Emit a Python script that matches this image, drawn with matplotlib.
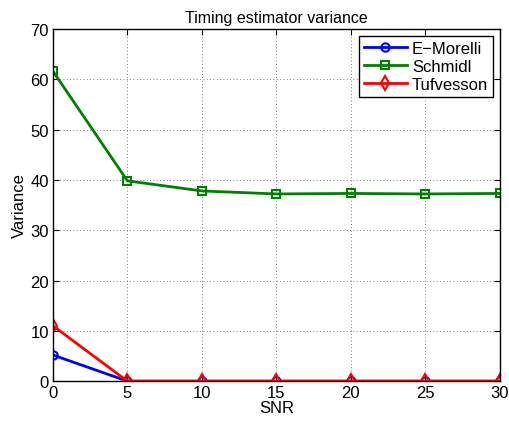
import matplotlib
matplotlib.use("Agg")
import matplotlib.pyplot as plt

plt.rcParams['font.family'] = ['Liberation Sans', 'DejaVu Sans']

snr = [0, 5, 10, 15, 20, 25, 30]
morelli = [5.2, 0, 0, 0, 0, 0, 0]
schmidl = [61.6, 39.8, 37.8, 37.2, 37.3, 37.2, 37.3]
tufvesson = [11.0, 0, 0, 0, 0, 0, 0]

fig = plt.figure(figsize=(5.09, 4.27), dpi=100)
ax = fig.add_axes([0.104, 0.105, 0.878, 0.825])

ax.plot(snr, morelli, color='#0000ff', lw=2, marker='o', ms=6, mfc='none', mew=1.5, label='E\u2212Morelli')
ax.plot(snr, schmidl, color='#008000', lw=2, marker='s', ms=5.5, mfc='none', mew=1.5, label='Schmidl')
ax.plot(snr, tufvesson, color='#ff0000', lw=2, marker='d', ms=7, mfc='none', mew=1.5, label='Tufvesson')

ax.set_xlim(0, 30)
ax.set_ylim(0, 70)
ax.set_xticks(snr)
ax.set_yticks(range(0, 71, 10))
ax.tick_params(direction='in', labelsize=12, length=4, top=True, right=True, pad=3)
ax.grid(True, color='#555555', linestyle=(0, (1, 3)), linewidth=0.6)
for s in ax.spines.values():
    s.set_linewidth(1.0)

ax.set_title('Timing estimator variance', fontsize=11.5, pad=5)
ax.set_xlabel('SNR', fontsize=12, labelpad=0)
ax.set_ylabel('Variance', fontsize=12, labelpad=2)

leg = ax.legend(loc='upper right', fontsize=12, fancybox=False, framealpha=1,
                edgecolor='black', handlelength=2.6, borderaxespad=0.4,
                labelspacing=0.2, handletextpad=0.3, borderpad=0.3)
leg.get_frame().set_linewidth(1.0)

fig.savefig('out.png', dpi=100)
